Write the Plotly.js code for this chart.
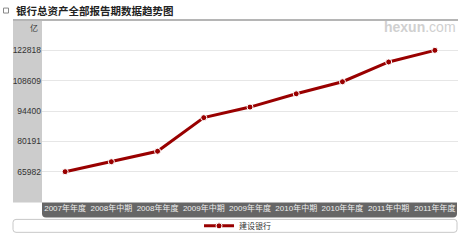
<!DOCTYPE html>
<html>
<head>
<meta charset="utf-8">
<script src="https://cdn.plot.ly/plotly-3.0.1.min.js"></script>
<style>html,body{margin:0;padding:0;background:#fff;}#chart{width:470px;height:243px;}</style>
</head>
<body>
<div id="chart"></div>
<script>
const categories = ["2007年年度","2008年中期","2008年年度","2009年中期","2009年年度","2010年中期","2010年年度","2011年中期","2011年年度"];
const seriesName = "建设银行";
const totalAssets = [65982, 70640, 75555, 91280, 96234, 102460, 108103, 117367, 122818];
const yTickVals = [65982, 80191, 94400, 108609, 122818];
const yRange = [51773, 137027];
const chartTitle = "银行总资产全部报告期数据趋势图";
const unitLabel = "亿";

// pixel helpers for decoration (plot area: x 42..458, y 19.5..202.5)
const L = 42, R = 458, T = 19.5, B = 202.5;
const xp = px => (px - L) / (R - L);
const yp = py => (B - py) / (B - T);

function roundedBottomRect(x0, y0, x1, y1, r) {
  const dx = r / (R - L), dy = r / (B - T);
  const X0 = xp(x0), X1 = xp(x1), Y0 = yp(y0), Y1 = yp(y1);
  return `M${X0},${Y0} L${X1},${Y0} L${X1},${Y1 + dy} Q${X1},${Y1} ${X1 - dx},${Y1} L${X0 + dx},${Y1} Q${X0},${Y1} ${X0},${Y1 + dy} Z`;
}
function roundedRect(x0, y0, x1, y1, r) {
  const dx = r / (R - L), dy = r / (B - T);
  const X0 = xp(x0), X1 = xp(x1), Y0 = yp(y0), Y1 = yp(y1);
  return `M${X0 + dx},${Y0} L${X1 - dx},${Y0} Q${X1},${Y0} ${X1},${Y0 - dy} L${X1},${Y1 + dy} Q${X1},${Y1} ${X1 - dx},${Y1} L${X0 + dx},${Y1} Q${X0},${Y1} ${X0},${Y1 + dy} L${X0},${Y0 - dy} Q${X0},${Y0} ${X0 + dx},${Y0} Z`;
}

const font = "Liberation Sans, Arial, Noto Sans CJK SC, sans-serif";

const trace = {
  x: categories,
  y: totalAssets,
  name: seriesName,
  type: "scatter",
  mode: "lines+markers",
  line: {color: "#990000", width: 3},
  marker: {color: "#990000", size: 6, line: {color: "#ffffff", width: 1}},
  hoverinfo: "x+y"
};

const layout = {
  width: 470, height: 243,
  margin: {l: L, r: 470 - R, t: T, b: 243 - B, autoexpand: false},
  paper_bgcolor: "#ffffff",
  plot_bgcolor: "rgba(0,0,0,0)",
  showlegend: true,
  legend: {
    orientation: "h", x: 0.47, xanchor: "center", y: yp(226.5), yanchor: "middle",
    bgcolor: "rgba(0,0,0,0)", font: {family: font, size: 8, color: "#333"},
    itemwidth: 30
  },
  xaxis: {
    type: "category", range: [-0.5, categories.length - 0.5],
    showgrid: false, zeroline: false, showline: false, ticks: "",
    tickfont: {family: font, size: 8, color: "#eeeeee"},
    fixedrange: true
  },
  yaxis: {
    range: yRange, tickvals: yTickVals, ticktext: yTickVals.map(String),
    showgrid: true, gridcolor: "#e6e6e6", gridwidth: 1,
    zeroline: false, showline: false, ticks: "",
    tickfont: {family: font, size: 8.5, color: "#333"},
    fixedrange: true
  },
  shapes: [
    // gray y-axis panel
    {type: "rect", xref: "paper", yref: "paper", x0: xp(13), x1: xp(42), y0: yp(203), y1: yp(20),
     fillcolor: "#cccccc", line: {width: 0}, layer: "below"},
    // top rule
    {type: "line", xref: "paper", yref: "paper", x0: xp(13), x1: xp(458), y0: yp(19.5), y1: yp(19.5),
     line: {color: "#b5b5b5", width: 2}},
    // dark x-axis bar
    {type: "path", xref: "paper", yref: "paper", path: roundedBottomRect(42, 203, 457, 218, 4),
     fillcolor: "#666666", line: {width: 0}, layer: "below"},
    // legend box
    {type: "path", xref: "paper", yref: "paper", path: roundedRect(13, 220, 457, 233, 3),
     fillcolor: "rgba(0,0,0,0)", line: {color: "#c8c8c8", width: 1}, layer: "below"},
    // title bullet square
    {type: "rect", xref: "paper", yref: "paper", x0: xp(3.5), x1: xp(8.5), y0: yp(12.5), y1: yp(7.5),
     fillcolor: "#ffffff", line: {color: "#888888", width: 1}}
  ],
  annotations: [
    {text: chartTitle, xref: "paper", yref: "paper", x: xp(14), y: yp(10), xanchor: "left", yanchor: "middle",
     showarrow: false, font: {family: "Noto Sans CJK SC, sans-serif", size: 10.5, color: "#222", weight: "bold"}},
    {text: unitLabel, xref: "paper", yref: "paper", x: xp(40), y: yp(27), xanchor: "right", yanchor: "middle",
     showarrow: false, font: {family: "Noto Sans CJK SC, sans-serif", size: 8, color: "#333"}},
    {text: "<b>hexun</b>.com", xref: "paper", yref: "paper", x: xp(458), y: yp(27), xanchor: "right", yanchor: "middle",
     showarrow: false, font: {family: "Liberation Sans, Arial, sans-serif", size: 14, color: "#d0d0d0"}}
  ]
};

Plotly.newPlot("chart", [trace], layout, {displayModeBar: false, staticPlot: true});
</script>
</body>
</html>
